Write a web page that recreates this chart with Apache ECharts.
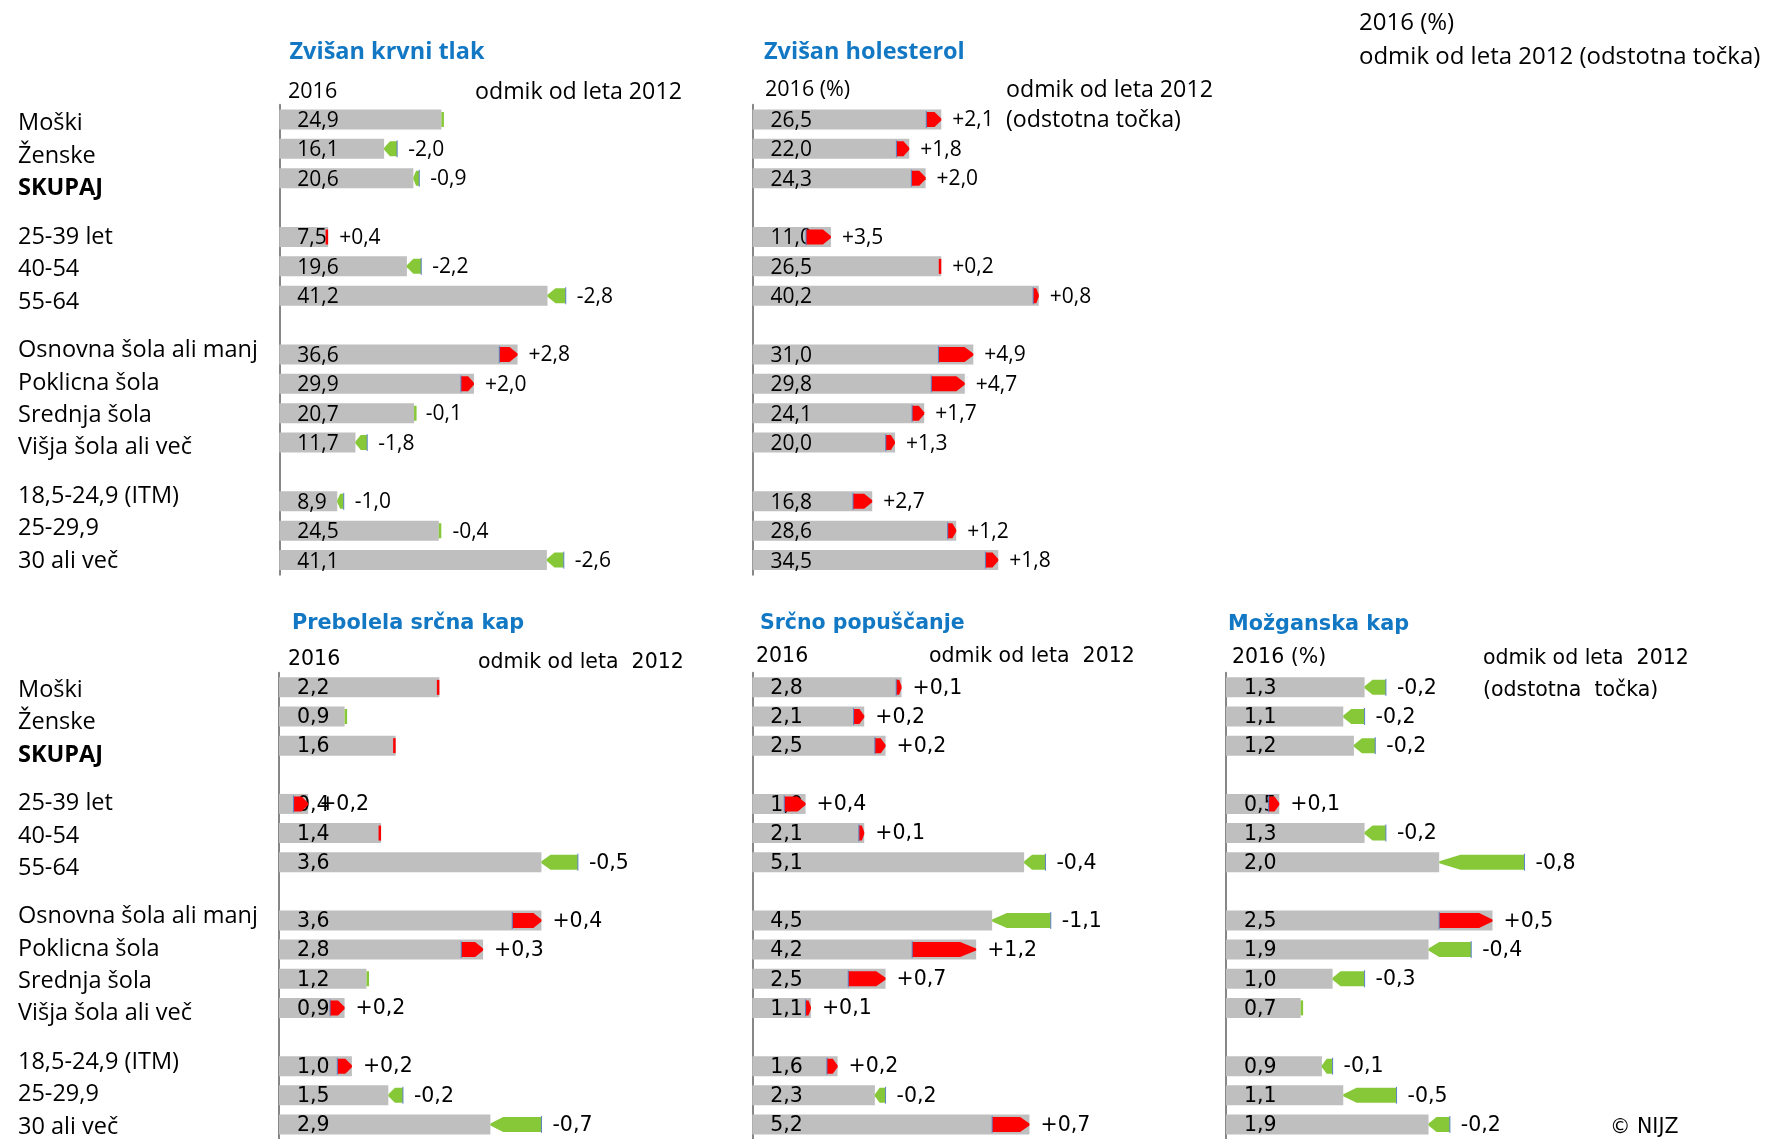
<!DOCTYPE html>
<html>
<head>
<meta charset="utf-8">
<script src="https://cdn.jsdelivr.net/npm/echarts@6/dist/echarts.min.js"></script>
<style>
  html, body { margin: 0; padding: 0; background: #fff; }
  #chart { width: 1780px; height: 1139px; }
</style>
</head>
<body>
<div id="chart"></div>
<script>
// vrstice
var rowLabels = ['Moški', 'Ženske', 'SKUPAJ', '25-39 let', '40-54', '55-64',
  'Osnovna šola ali manj', 'Poklicna šola', 'Srednja šola', 'Višja šola ali več',
  '18,5-24,9 (ITM)', '25-29,9', '30 ali več']
var groupSizes = [3, 3, 4, 3]

// 2016 (%) in odmik od leta 2012 (odstotna točka)
var tlak2016 = [24.9, 16.1, 20.6, 7.5, 19.6, 41.2, 36.6, 29.9, 20.7, 11.7, 8.9, 24.5, 41.1]
var tlakOdmik = [-0.04, -2.0, -0.9, 0.4, -2.2, -2.8, 2.8, 2.0, -0.1, -1.8, -1.0, -0.4, -2.6]

var holesterol2016 = [26.5, 22.0, 24.3, 11.0, 26.5, 40.2, 31.0, 29.8, 24.1, 20.0, 16.8, 28.6, 34.5]
var holesterolOdmik = [2.1, 1.8, 2.0, 3.5, 0.2, 0.8, 4.9, 4.7, 1.7, 1.3, 2.7, 1.2, 1.8]

var srcnaKap2016 = [2.2, 0.9, 1.6, 0.4, 1.4, 3.6, 3.6, 2.8, 1.2, 0.9, 1.0, 1.5, 2.9]
var srcnaKapOdmik = [0.03, -0.03, 0.03, 0.2, 0.03, -0.5, 0.4, 0.3, -0.03, 0.2, 0.2, -0.2, -0.7]

var popuscanje2016 = [2.8, 2.1, 2.5, 1.0, 2.1, 5.1, 4.5, 4.2, 2.5, 1.1, 1.6, 2.3, 5.2]
var popuscanjeOdmik = [0.1, 0.2, 0.2, 0.4, 0.1, -0.4, -1.1, 1.2, 0.7, 0.1, 0.2, -0.2, 0.7]

var mozganska2016 = [1.3, 1.1, 1.2, 0.5, 1.3, 2.0, 2.5, 1.9, 1.0, 0.7, 0.9, 1.1, 1.9]
var mozganskaOdmik = [-0.2, -0.2, -0.2, 0.1, -0.2, -0.8, 0.5, -0.4, -0.3, -0.03, -0.1, -0.5, -0.2]

var TOP_FONT = 'Open Sans'
var BOTTOM_FONT = 'DejaVu Sans'
var RED = '#FF0000'
var GREEN = '#86C838'
var BLUE = '#1278C4'

// pozicije vrstic: stolpci imajo prazno vrstico med skupinami, napisi pa drugačen razmik
var barSlots = []
var labelSlots = []
var s = 0, ls = 0
groupSizes.forEach(function (n) {
  for (var k = 0; k < n; k++) {
    barSlots.push(s++)
    labelSlots.push(ls)
    ls += 2
  }
  s += 1
  ls += 1
})
var nBarSlots = barSlots[barSlots.length - 1] + 1
var nLabelSlots = labelSlots[labelSlots.length - 1] + 1

function fmt(v) {
  return v.toFixed(1).replace('.', ',')
}
function fmtDelta(d) {
  return (d > 0 ? '+' : '') + fmt(d)
}

var panels = [
  { title: 'Zvišan krvni tlak', v: tlak2016, d: tlakOdmik, left: 279.3, width: 390.6, max: 60, top: 104.8, font: TOP_FONT, size: 21 },
  { title: 'Zvišan holesterol', v: holesterol2016, d: holesterolOdmik, left: 752.6, width: 427.2, max: 60, top: 104.8, font: TOP_FONT, size: 21 },
  { title: 'Prebolela srčna kap', v: srcnaKap2016, d: srcnaKapOdmik, left: 279, width: 364.5, max: 5, top: 672.8, font: BOTTOM_FONT, size: 20.5 },
  { title: 'Srčno popuščanje', v: popuscanje2016, d: popuscanjeOdmik, left: 752.3, width: 426.4, max: 8, top: 672.8, font: BOTTOM_FONT, size: 20.5 },
  { title: 'Možganska kap', v: mozganska2016, d: mozganskaOdmik, left: 1226, width: 426.4, max: 4, top: 672.8, font: BOTTOM_FONT, size: 20.5 }
]

var barCats = []
for (var i = 0; i < nBarSlots; i++) barCats.push('b' + i)
var labelCats = []
var labelText = {}
for (var j = 0; j < nLabelSlots; j++) labelCats.push('l' + j)
rowLabels.forEach(function (t, k) { labelText[labelSlots[k]] = t })

function renderArrow(p) {
  return function (params, api) {
    var v = api.value(0)
    var slot = api.value(1)
    var d = api.value(2)
    var p1 = api.coord([v, slot])
    var p0 = api.coord([v - d, slot])
    var cy = p1[1]
    var hh = 7.5
    var dir = d >= 0 ? 1 : -1
    var len = Math.abs(p1[0] - p0[0])
    var color = d >= 0 ? RED : GREEN
    var children = []
    if (len < 4) {
      // skoraj brez spremembe: tanka črtica
      var xr = d >= 0 ? p1[0] - 2.5 : p1[0]
      children.push({ type: 'rect', shape: { x: xr, y: cy - hh, width: 2.5, height: hh * 2 }, style: { fill: color } })
    } else {
      // konica puščice
      var h = Math.max(Math.min(len * 0.45, 8), len * 0.25)
      var xb = p0[0], xt = p1[0], xn = xt - dir * h
      children.push({
        type: 'polygon',
        shape: { points: [[xb, cy - hh], [xn, cy - hh], [xt, cy - 1], [xt, cy + 1], [xn, cy + hh], [xb, cy + hh]] },
        style: { fill: color }
      })
      children.push({
        type: 'line',
        shape: { x1: xb, y1: cy - hh - 1, x2: xb, y2: cy + hh + 1 },
        style: { stroke: '#5B82C6', lineWidth: 1 }
      })
    }
    if (Math.abs(d) >= 0.05) {
      children.push({
        type: 'text',
        style: {
          text: fmtDelta(d),
          x: Math.max(p0[0], p1[0]) + 11,
          y: cy + 1,
          fill: '#000',
          fontFamily: p.font,
          fontSize: p.size,
          verticalAlign: 'middle'
        }
      })
    }
    return { type: 'group', children: children }
  }
}

var grid = [
  { left: 270, top: 115.7, width: 1, height: 453.3 },
  { left: 270, top: 682.2, width: 1, height: 453.3 }
]
var xAxis = [
  { type: 'value', gridIndex: 0, show: false },
  { type: 'value', gridIndex: 1, show: false }
]
var labelAxis = function (g) {
  return {
    type: 'category', gridIndex: g, inverse: true, data: labelCats,
    axisLine: { show: false }, axisTick: { show: false },
    axisLabel: {
      interval: 0, margin: 252, align: 'left', color: '#000',
      fontFamily: TOP_FONT, fontSize: 23.5,
      formatter: function (val, idx) {
        var t = labelText[idx]
        if (!t) return ''
        return t === 'SKUPAJ' ? '{b|' + t + '}' : t
      },
      rich: { b: { fontWeight: 'bold', fontFamily: TOP_FONT, fontSize: 23.5, color: '#000' } }
    }
  }
}
var yAxis = [labelAxis(0), labelAxis(1)]
var series = []

panels.forEach(function (p, k) {
  var g = k + 2
  grid.push({ left: p.left, top: p.top, width: p.width, height: 470 })
  xAxis.push({ type: 'value', gridIndex: g, min: 0, max: p.max, show: false })
  yAxis.push({
    type: 'category', gridIndex: g, inverse: true, data: barCats,
    axisLine: { show: true, lineStyle: { color: '#878787', width: 2 } },
    axisTick: { show: false }, axisLabel: { show: false }, splitLine: { show: false }
  })
  var barData = barCats.map(function () { return null })
  var arrowData = []
  p.v.forEach(function (v, r) {
    barData[barSlots[r]] = v
    arrowData.push([v, barSlots[r], p.d[r]])
  })
  series.push({
    type: 'bar',
    xAxisIndex: g,
    yAxisIndex: g,
    data: barData,
    barWidth: 20,
    silent: true,
    itemStyle: { color: '#BFBFBF' },
    label: {
      show: true,
      position: 'insideLeft',
      distance: 18,
      offset: [0, 1.5],
      color: '#000',
      fontFamily: p.font,
      fontSize: p.size,
      formatter: function (o) { return fmt(o.value) }
    }
  })
  series.push({
    type: 'custom',
    xAxisIndex: g,
    yAxisIndex: g,
    data: arrowData,
    encode: { x: 0, y: 1 },
    silent: true,
    z: 3,
    renderItem: renderArrow(p)
  })
})

function txt(text, x, y, font, size, opts) {
  opts = opts || {}
  return {
    type: 'text', x: x, y: y, silent: true,
    style: {
      text: text, x: 0, y: 0, fill: opts.color || '#000',
      fontFamily: font, fontSize: size, fontWeight: opts.bold ? 'bold' : 'normal',
      verticalAlign: 'middle', align: 'left'
    }
  }
}

var graphic = [
  // naslovi
  txt('Zvišan krvni tlak', 289.5, 52.5, TOP_FONT, 23.5, { bold: true, color: BLUE }),
  txt('Zvišan holesterol', 764, 52.5, TOP_FONT, 23.5, { bold: true, color: BLUE }),
  txt('Prebolela srčna kap', 292, 623.5, BOTTOM_FONT, 20.8, { bold: true, color: BLUE }),
  txt('Srčno popuščanje', 760, 623.5, BOTTOM_FONT, 20.5, { bold: true, color: BLUE }),
  txt('Možganska kap', 1228, 624.5, BOTTOM_FONT, 20.8, { bold: true, color: BLUE }),
  // glave stolpcev
  txt('2016', 288, 92, TOP_FONT, 21.5),
  txt('odmik od leta 2012', 475, 92, TOP_FONT, 23.2),
  txt('2016 (%)', 765, 90, TOP_FONT, 21.5),
  txt('odmik od leta 2012', 1006, 90, TOP_FONT, 23.2),
  txt('(odstotna točka)', 1006, 120.5, TOP_FONT, 23.2),
  txt('2016', 288, 660, BOTTOM_FONT, 20.5),
  txt('odmik od leta  2012', 478, 662.5, BOTTOM_FONT, 20.5),
  txt('2016', 756, 656.5, BOTTOM_FONT, 20.5),
  txt('odmik od leta  2012', 929, 656.5, BOTTOM_FONT, 20.5),
  txt('2016 (%)', 1232, 657.5, BOTTOM_FONT, 20.5),
  txt('odmik od leta  2012', 1483, 658.5, BOTTOM_FONT, 20.5),
  txt('(odstotna  točka)', 1483, 690.5, BOTTOM_FONT, 20.5),
  // legenda desno zgoraj
  txt('2016 (%)', 1359, 23, TOP_FONT, 24),
  txt('odmik od leta 2012 (odstotna točka)', 1359, 57.5, TOP_FONT, 24),
  txt('© NIJZ', 1610, 1127.5, BOTTOM_FONT, 20.5)
]

var chart = echarts.init(document.getElementById('chart'), null, { renderer: 'canvas' })
chart.setOption({
  animation: false,
  backgroundColor: '#fff',
  grid: grid,
  xAxis: xAxis,
  yAxis: yAxis,
  series: series,
  graphic: graphic
})
</script>
</body>
</html>
